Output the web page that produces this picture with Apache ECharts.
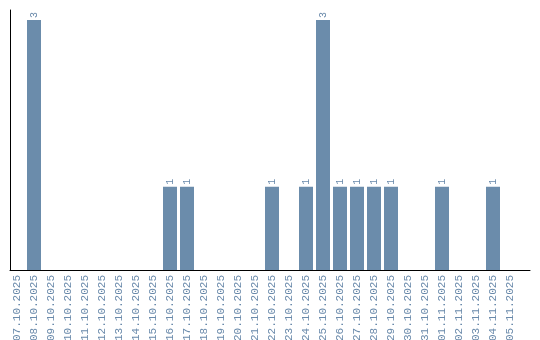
<!DOCTYPE html>
<html>
<head>
<meta charset="utf-8">
<script src="https://cdn.jsdelivr.net/npm/echarts@6/dist/echarts.min.js"></script>
<style>html,body{margin:0;padding:0;background:#fff}#c{width:540px;height:340px}</style>
</head>
<body>
<div id="c"></div>
<script>
const categories = ["07.10.2025","08.10.2025","09.10.2025","10.10.2025","11.10.2025","12.10.2025","13.10.2025","14.10.2025","15.10.2025","16.10.2025","17.10.2025","18.10.2025","19.10.2025","20.10.2025","21.10.2025","22.10.2025","23.10.2025","24.10.2025","25.10.2025","26.10.2025","27.10.2025","28.10.2025","29.10.2025","30.10.2025","31.10.2025","01.11.2025","02.11.2025","03.11.2025","04.11.2025","05.11.2025"];
const counts = [0,3,0,0,0,0,0,0,0,1,1,0,0,0,0,1,0,1,3,1,1,1,1,0,0,1,0,0,1,0];

const barColor = '#6b8cab';
const textColor = '#6a8aab';
const font = 'Liberation Mono';

const chart = echarts.init(document.getElementById('c'), null, {renderer: 'canvas'});
chart.setOption({
  animation: false,
  grid: [
    {left: 8.5, width: 510, top: 10, bottom: 70, containLabel: false, outerBoundsMode: 'none'},
    {left: 10, right: 10, top: 10, bottom: 70, containLabel: false, outerBoundsMode: 'none'}
  ],
  xAxis: [
    {
      type: 'category', gridIndex: 0, data: categories,
      axisLine: {show: false}, axisTick: {show: false},
      axisLabel: {rotate: 90, interval: 0, margin: 5, color: textColor, fontFamily: font, fontSize: 11}
    },
    {
      type: 'value', gridIndex: 1, min: 0, max: 1,
      axisLine: {show: true, lineStyle: {color: '#000', width: 1}},
      axisTick: {show: false}, axisLabel: {show: false}, splitLine: {show: false}
    }
  ],
  yAxis: [
    {
      type: 'value', gridIndex: 0, min: 0, max: 3.12,
      axisLine: {show: false}, axisTick: {show: false}, axisLabel: {show: false}, splitLine: {show: false}
    },
    {
      type: 'value', gridIndex: 1, min: 0, max: 1,
      axisLine: {show: true, lineStyle: {color: '#000', width: 1}},
      axisTick: {show: false}, axisLabel: {show: false}, splitLine: {show: false}
    }
  ],
  series: [{
    type: 'bar', xAxisIndex: 0, yAxisIndex: 0,
    data: counts,
    barWidth: 14,
    itemStyle: {color: barColor},
    label: {
      show: true, position: 'top', rotate: 90, align: 'left', verticalAlign: 'middle',
      distance: 2, color: textColor, fontFamily: font, fontSize: 10,
      formatter: p => p.value ? String(p.value) : ''
    }
  }]
});
</script>
</body>
</html>
